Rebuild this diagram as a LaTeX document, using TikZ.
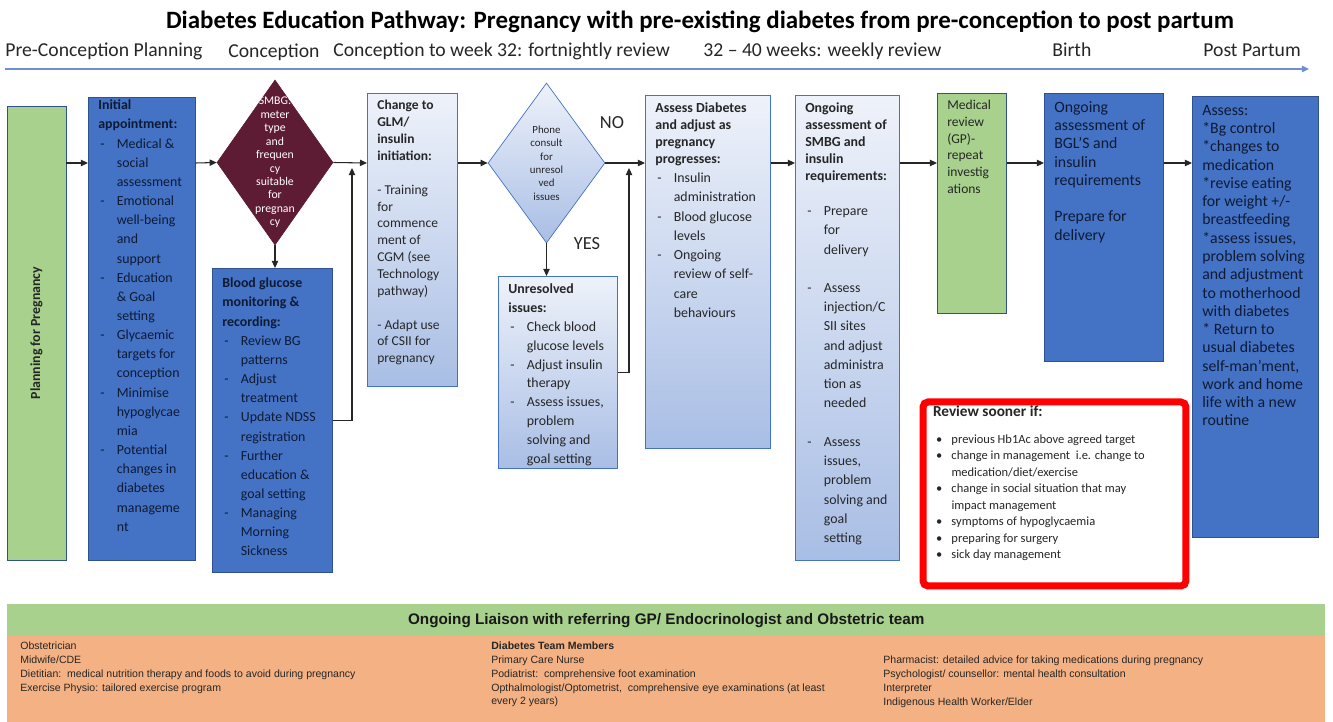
\documentclass[tikz,border=0pt]{standalone}
\usepackage{fontspec}
\setmainfont{Carlito}
\newfontfamily\arialfont{Liberation Sans}
\usetikzlibrary{shapes.geometric,arrows.meta}

\definecolor{boxblue}{HTML}{4472C4}
\definecolor{boxblueedge}{HTML}{2F528F}
\definecolor{topblue}{HTML}{EEF2FA}
\definecolor{paleblue}{HTML}{A9BEE5}
\definecolor{leafgreen}{HTML}{A9D18E}
\definecolor{wine}{HTML}{5E1B34}
\definecolor{peach}{HTML}{F4B183}
\definecolor{inkblue}{HTML}{0F1B35}
\definecolor{lineblue}{HTML}{6E8FD2}

% list lines inside the stage boxes
\newcommand{\dashitem}[1]{\mbox{\makebox[0.37cm][l]{\hspace{0.04cm}-}#1}}
\newcommand{\contitem}[1]{\mbox{\hspace{0.37cm}#1}}
\newcommand{\bulitem}[1]{\mbox{\makebox[0.37cm][l]{\hspace{0.06cm}\textbullet}#1}}
\newcommand{\headitem}[1]{\mbox{\textbf{#1}}}
% width, height, first baseline, text
\newcommand{\stagebody}[4]{\parbox[c][#2][t]{#1}{\raggedright\hyphenpenalty=10000\exhyphenpenalty=10000\leftskip=0.2cm\rule{0pt}{#3}#4}}

\begin{document}
\begin{tikzpicture}[x=0.02cm,y=-0.02cm,>={Triangle[length=4pt,width=3.6pt]},
  solidbox/.style={draw=boxblueedge,fill=boxblue,text=inkblue,inner sep=0pt,anchor=north west,font={\fontsize{7.9}{10.9}\selectfont}},
  shadebox/.style={draw=boxblue,top color=topblue,bottom color=paleblue,text=black!85,inner sep=0pt,anchor=north west,font={\fontsize{7.9}{10.9}\selectfont}},
  greenbox/.style={draw=boxblueedge,fill=leafgreen,text=black!85,inner sep=0pt},
  winedia/.style={diamond,draw=wine,fill=wine,inner sep=0pt,minimum width=2.32cm,minimum height=3.3cm},
  shadedia/.style={diamond,draw=boxblue,top color=topblue,bottom color=paleblue,inner sep=0pt,minimum width=2.34cm,minimum height=3.2cm},
  diatext/.style={align=center,inner sep=0pt},
  link/.style={->,line width=0.6pt,black!85},
  timeline/.style={->,line width=0.8pt,lineblue},
  titletext/.style={anchor=base,inner sep=0pt,font={\fontsize{14.2}{16}\selectfont\bfseries}},
  phaselabel/.style={anchor=base west,inner sep=0pt,text=black!85,font={\fontsize{11.2}{13}\selectfont}},
  answer/.style={inner sep=0pt,text=black!85,font={\fontsize{10.5}{12}\selectfont}},
  reviewbox/.style={draw=red,line width=0.14cm,rounded corners=0.1cm,fill=white,text=black!85,inner sep=0pt,anchor=north west},
  teamtext/.style={anchor=north west,align=left,inner sep=0pt,text=black!85,font={\arialfont\fontsize{6}{7.8}\selectfont}}]
\useasboundingbox (0,0) rectangle (1333,722);

% heading and time line
\node[titletext] (title) at (700,29) {Diabetes Education Pathway: Pregnancy with pre-existing diabetes from pre-conception to post partum};
\node[phaselabel] (precon) at (5,57) {Pre-Conception Planning};
\node[phaselabel] (concep) at (228,58) {Conception};
\node[phaselabel] (fortn) at (333,57) {Conception to week 32: fortnightly review};
\node[phaselabel] (weekly) at (703,57) {32 – 40 weeks: weekly review};
\node[phaselabel] (birth) at (1052,57) {Birth};
\node[phaselabel] (postp) at (1203,57) {Post Partum};
\coordinate (tlstart) at (5,69);
\coordinate (tlend) at (1309,69);
\draw[timeline] (tlstart) -- (tlend);

% stages
\node[greenbox,rotate=90,minimum width=9.08cm,minimum height=1.18cm,font={\fontsize{7.9}{9}\selectfont\bfseries}] (plan) at (36.5,333) {Planning for Pregnancy};

\node[solidbox] (init) at (88,97) {\stagebody{2.14cm}{9.26cm}{0.25cm}{%
\headitem{Initial}\\
\headitem{appointment:}\\
\dashitem{Medical \&}\\
\contitem{social}\\
\contitem{assessment}\\
\dashitem{Emotional}\\
\contitem{well-being}\\
\contitem{and}\\
\contitem{support}\\
\dashitem{Education}\\
\contitem{\& Goal}\\
\contitem{setting}\\
\dashitem{Glycaemic}\\
\contitem{targets for}\\
\contitem{conception}\\
\dashitem{Minimise}\\
\contitem{hypoglycae}\\
\contitem{mia}\\
\dashitem{Potential}\\
\contitem{changes in}\\
\contitem{diabetes}\\
\contitem{manageme}\\
\contitem{nt}}};

\node[winedia] (smbg) at (275,162.5) {};
\node[diatext,text=white,font={\fontsize{6.7}{7.65}\selectfont}] (smbgtext) at (smbg.center) {SMBG:\\meter\\type\\and\\frequen\\cy\\suitable\\for\\pregnan\\cy};

\node[solidbox] (bg) at (212,268) {\stagebody{2.4cm}{6.08cm}{0.39cm}{%
\headitem{Blood glucose}\\
\headitem{monitoring \&}\\
\headitem{recording:}\\
\dashitem{Review BG}\\
\contitem{patterns}\\
\dashitem{Adjust}\\
\contitem{treatment}\\
\dashitem{Update NDSS}\\
\contitem{registration}\\
\dashitem{Further}\\
\contitem{education \&}\\
\contitem{goal setting}\\
\dashitem{Managing}\\
\contitem{Morning}\\
\contitem{Sickness}}};

\node[shadebox,font={\fontsize{7.7}{9.6}\selectfont}] (change) at (367,93) {\stagebody{1.8cm}{5.86cm}{0.33cm}{%
\headitem{Change to}\\
\headitem{GLM/}\\
\headitem{insulin}\\
\headitem{initiation:}\\[9.6pt]
- Training\\
for\\
commence\\
ment of\\
CGM (see\\
Technology\\
pathway)\\[9.6pt]
- Adapt use\\
of CSII for\\
pregnancy}};

\node[shadedia] (phone) at (546.5,163) {};
\node[diatext,text=black!85,font={\fontsize{6.2}{7.6}\selectfont}] (phonetext) at (phone.center) {Phone\\consult\\for\\unresol\\ved\\issues};
\node[answer] (no) at (612,123) {NO};
\node[answer] (yes) at (587,244) {YES};

\node[shadebox,font={\fontsize{7.9}{10.7}\selectfont}] (unres) at (498,276) {\stagebody{2.38cm}{3.84cm}{0.35cm}{%
\headitem{Unresolved}\\
\headitem{issues:}\\
\dashitem{Check blood}\\
\contitem{glucose levels}\\
\dashitem{Adjust insulin}\\
\contitem{therapy}\\
\dashitem{Assess issues,}\\
\contitem{problem}\\
\contitem{solving and}\\
\contitem{goal setting}}};

\node[shadebox,font={\fontsize{7.9}{9.6}\selectfont}] (assess) at (645,95) {\stagebody{2.5cm}{7.06cm}{0.35cm}{%
\headitem{Assess Diabetes}\\
\headitem{and adjust as}\\
\headitem{pregnancy}\\
\headitem{progresses:}\par
\fontsize{7.9}{10.95}\selectfont
\dashitem{Insulin}\\
\contitem{administration}\\
\dashitem{Blood glucose}\\
\contitem{levels}\\
\dashitem{Ongoing}\\
\contitem{review of self-}\\
\contitem{care}\\
\contitem{behaviours}}};

\node[shadebox,font={\fontsize{7.9}{9.6}\selectfont}] (smbgon) at (795,95) {\stagebody{2.08cm}{9.3cm}{0.35cm}{%
\headitem{Ongoing}\\
\headitem{assessment of}\\
\headitem{SMBG and}\\
\headitem{insulin}\\
\headitem{requirements:}\par
\vspace{9.1pt}\fontsize{7.9}{10.95}\selectfont
\dashitem{Prepare}\\
\contitem{for}\\
\contitem{delivery}\\[10.95pt]
\dashitem{Assess}\\
\contitem{injection/C}\\
\contitem{SII sites}\\
\contitem{and adjust}\\
\contitem{administra}\\
\contitem{tion as}\\
\contitem{needed}\\[10.95pt]
\dashitem{Assess}\\
\contitem{issues,}\\
\contitem{problem}\\
\contitem{solving and}\\
\contitem{goal}\\
\contitem{setting}}};

\node[greenbox,anchor=north west,font={\fontsize{7.7}{9.5}\selectfont}] (medrev) at (937,93) {\stagebody{1.38cm}{4.4cm}{0.33cm}{%
Medical\\
review\\
(GP)-\\
repeat\\
investig\\
ations}};

\node[solidbox,font={\fontsize{9}{10.4}\selectfont}] (bgl) at (1044,93) {\stagebody{2.38cm}{5.36cm}{0.38cm}{%
Ongoing\\
assessment of\\
BGL’S and\\
insulin\\
requirements\\[10.4pt]
Prepare for\\
delivery}};

\node[solidbox,font={\fontsize{9}{10.4}\selectfont}] (pp) at (1192,96) {\stagebody{2.52cm}{8.82cm}{0.38cm}{%
Assess:\\
{}*Bg control\\
{}*changes to\\
medication\\
{}*revise eating\\
for weight +/-\\
breastfeeding\\
{}*assess issues,\\
problem solving\\
and adjustment\\
to motherhood\\
with diabetes\\
{}* Return to\\
usual diabetes\\
self-man’ment,\\
work and home\\
life with a new\\
routine}};

\node[reviewbox] (review) at (919.5,398.5) {\stagebody{5.26cm}{3.68cm}{0.3cm}{%
{\fontsize{8.7}{10}\selectfont\textbf{Review sooner if:}\par}
\vspace{5.6pt}\fontsize{7.1}{9.4}\selectfont
\bulitem{previous Hb1Ac above agreed target}\\
\bulitem{change in management\ \ i.e. change to}\\
\contitem{medication/diet/exercise}\\
\bulitem{change in social situation that may}\\
\contitem{impact management}\\
\bulitem{symptoms of hypoglycaemia}\\
\bulitem{preparing for surgery}\\
\bulitem{sick day management}}};

% connectors
\coordinate (row) at (0,163);
\coordinate (upa) at (352,168);
\coordinate (upb) at (629,168);
\draw[link] (plan.south |- row) -- (init.west |- row);
\draw[link] (init.east |- row) -- (smbg.west);
\draw[link] (smbg.south) -- (smbg.south |- bg.north);
\draw[link] (bg.east) -| (upa);
\draw[link] (smbg.east) -- (change.west |- row);
\draw[link] (change.east |- row) -- (phone.west);
\draw[link] (phone.east) -- (assess.west |- row);
\draw[link] (phone.south) -- (phone.south |- unres.north);
\draw[link] (unres.east) -| (upb);
\draw[link] (assess.east |- row) -- (smbgon.west |- row);
\draw[link] (smbgon.east |- row) -- (medrev.west |- row);
\draw[link] (medrev.east |- row) -- (bgl.west |- row);
\draw[link] (bgl.east |- row) -- (pp.west |- row);

% team panel
\node[anchor=north west,fill=leafgreen,minimum width=26.36cm,minimum height=0.64cm,inner sep=0pt,text=black!90,font={\arialfont\bfseries\fontsize{8.7}{10}\selectfont}] (liaison) at (7,604) {Ongoing Liaison with referring GP/ Endocrinologist and Obstetric team};
\node[anchor=north west,fill=peach,minimum width=26.36cm,minimum height=1.72cm,inner sep=0pt] (team) at (7,636) {};
\node[teamtext] (obst) at (20,642) {Obstetrician\\Midwife/CDE\\Dietitian:\ \ medical nutrition therapy and foods to avoid during pregnancy\\Exercise Physio: tailored exercise program};
\node[teamtext] (members) at (491,642) {\textbf{Diabetes Team Members}\\Primary Care Nurse\\Podiatrist:\ \ comprehensive foot examination\\Opthalmologist/Optometrist,\ \ comprehensive eye examinations (at least\\every 2 years)};
\node[teamtext] (pharm) at (883,656) {Pharmacist: detailed advice for taking medications during pregnancy\\Psychologist/ counsellor: mental health consultation\\Interpreter\\Indigenous Health Worker/Elder};
\end{tikzpicture}
\end{document}
